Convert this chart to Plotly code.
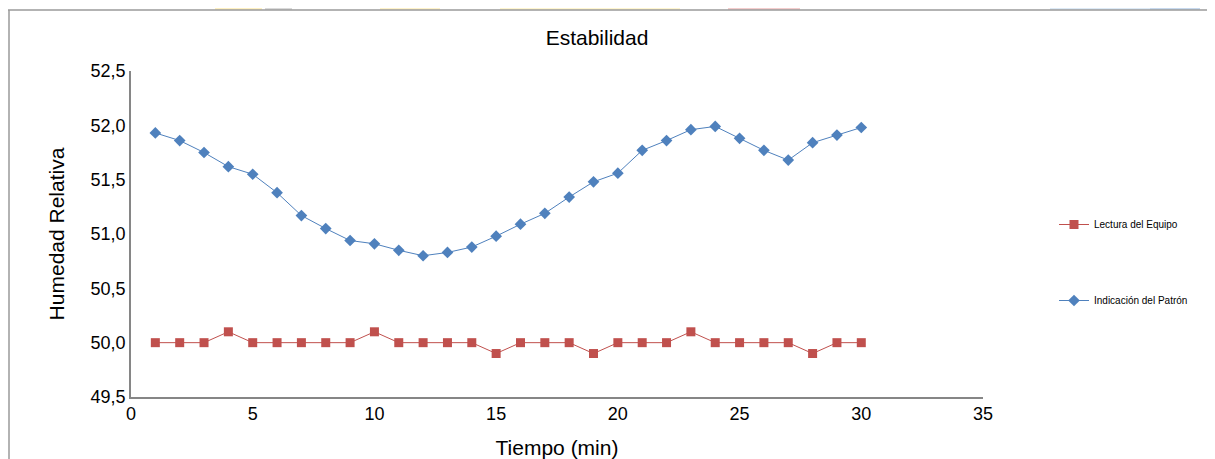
import plotly.graph_objects as go

tiempo = list(range(1, 31))
lectura_equipo = [50.0, 50.0, 50.0, 50.1, 50.0, 50.0, 50.0, 50.0, 50.0, 50.1,
                  50.0, 50.0, 50.0, 50.0, 49.9, 50.0, 50.0, 50.0, 49.9, 50.0,
                  50.0, 50.0, 50.1, 50.0, 50.0, 50.0, 50.0, 49.9, 50.0, 50.0]
indicacion_patron = [51.93, 51.86, 51.75, 51.62, 51.55, 51.38, 51.17, 51.05, 50.94, 50.91,
                     50.85, 50.80, 50.83, 50.88, 50.98, 51.09, 51.19, 51.34, 51.48, 51.56,
                     51.77, 51.86, 51.96, 51.99, 51.88, 51.77, 51.68, 51.84, 51.91, 51.98]

FONT = "Liberation Sans, Arial, sans-serif"
OFF = 8  # browser body margin
W, H = 1215 - OFF, 459 - OFF
L, R, T, B = 131 - OFF, 983 - OFF, 71 - OFF, 397 - OFF

fig = go.Figure()
fig.add_trace(go.Scatter(
    x=tiempo, y=lectura_equipo, name="Lectura del Equipo", mode="lines+markers",
    line=dict(color="#C0504D", width=1),
    marker=dict(symbol="square", size=9, color="#C0504D"),
    legendgroup="a"))
fig.add_trace(go.Scatter(
    x=tiempo, y=indicacion_patron, name="Indicación del Patrón", mode="lines+markers",
    line=dict(color="#4F81BD", width=1),
    marker=dict(symbol="diamond", size=9, color="#4F81BD"),
    legendgroup="b"))

def px_x(p):
    return (p - OFF - L) / (R - L)

def px_y(p):
    return (B - (p - OFF)) / (B - T)

shapes = []
for x0, x1, col in [(215, 262, "rgba(255,215,80,0.35)"), (265, 292, "rgba(150,150,150,0.35)"),
                    (380, 440, "rgba(255,215,80,0.3)"), (500, 680, "rgba(255,225,100,0.3)"),
                    (728, 800, "rgba(220,90,90,0.3)"), (1050, 1150, "rgba(120,170,220,0.25)"),
                    (1150, 1200, "rgba(70,130,200,0.3)")]:
    shapes.append(dict(type="rect", xref="paper", yref="paper",
                       x0=px_x(x0), x1=px_x(x1), y0=px_y(10), y1=px_y(0),
                       line=dict(width=0), fillcolor=col, layer="below"))
shapes.append(dict(type="line", xref="paper", yref="paper",
                   x0=px_x(8), x1=px_x(1215), y0=px_y(10), y1=px_y(10),
                   line=dict(color="#9a9a9a", width=1.5)))
shapes.append(dict(type="line", xref="paper", yref="paper",
                   x0=px_x(9), x1=px_x(9), y0=px_y(10), y1=px_y(459),
                   line=dict(color="#9a9a9a", width=1.5)))

fig.update_layout(
    width=W, height=H,
    margin=dict(l=L, r=W - R, t=T, b=H - B, autoexpand=False),
    paper_bgcolor="white", plot_bgcolor="white",
    separators=",.",
    font=dict(family=FONT, color="#000000"),
    title=dict(text="Estabilidad", x=(597 - OFF) / W, xanchor="center", y=1 - (38 - OFF) / H,
               yanchor="middle", font=dict(size=21, family=FONT)),
    xaxis=dict(range=[0, 35], tickvals=[0, 5, 10, 15, 20, 25, 30, 35],
               showgrid=False, zeroline=False, showline=True,
               linecolor="#868686", linewidth=1.5, ticks="",
               tickfont=dict(size=18, family=FONT),
               title=dict(text="Tiempo (min)", font=dict(size=21, family=FONT), standoff=19),
               automargin=False),
    yaxis=dict(range=[49.5, 52.5], dtick=0.5, tickformat=".1f",
               showgrid=False, zeroline=False, showline=True,
               linecolor="#868686", linewidth=1.5, ticks="",
               tickfont=dict(size=18, family=FONT),
               title=dict(text="Humedad Relativa", font=dict(size=21, family=FONT), standoff=20),
               automargin=False),
    legend=dict(xref="container", yref="container", x=1046 / W, xanchor="left",
                y=1 - 202 / H, yanchor="top", font=dict(size=10, family=FONT),
                tracegroupgap=57, bgcolor="rgba(0,0,0,0)"),
    shapes=shapes,
)

fig.write_html("out.html")
